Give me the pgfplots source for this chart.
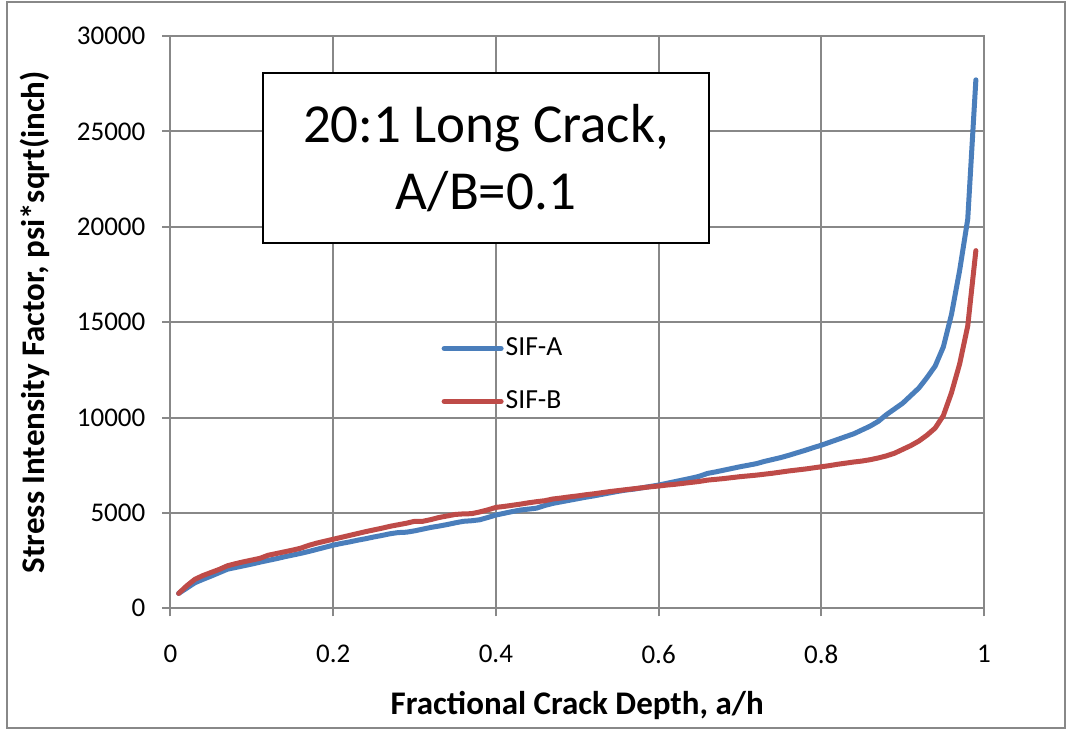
\documentclass[border=0pt]{standalone}
\usepackage{pgfplots}
\pgfplotsset{compat=1.18}
\usepackage{fontspec}
\setmainfont{Carlito}
\definecolor{sifA}{HTML}{4A7EBB}
\definecolor{sifB}{HTML}{BE4B48}
\definecolor{gridc}{HTML}{888888}

\pgfplotstableread{
x y
0.01 780
0.02 1060
0.03 1340
0.04 1520
0.05 1690
0.06 1870
0.07 2050
0.08 2140
0.09 2230
0.10 2320
0.11 2420
0.12 2510
0.13 2600
0.14 2700
0.15 2790
0.16 2880
0.17 2980
0.18 3090
0.19 3200
0.20 3310
0.21 3400
0.22 3480
0.23 3570
0.24 3650
0.25 3740
0.26 3820
0.27 3910
0.28 3970
0.29 3990
0.30 4060
0.31 4150
0.32 4240
0.33 4310
0.34 4390
0.35 4480
0.36 4560
0.37 4590
0.38 4640
0.39 4760
0.40 4890
0.41 4980
0.42 5070
0.43 5150
0.44 5200
0.45 5250
0.46 5390
0.47 5500
0.48 5580
0.49 5660
0.50 5740
0.51 5820
0.52 5890
0.53 5970
0.54 6050
0.55 6130
0.56 6200
0.57 6250
0.58 6320
0.59 6390
0.60 6460
0.61 6550
0.62 6640
0.63 6730
0.64 6820
0.65 6920
0.66 7070
0.67 7150
0.68 7240
0.69 7330
0.70 7420
0.71 7500
0.72 7580
0.73 7700
0.74 7800
0.75 7900
0.76 8020
0.77 8150
0.78 8280
0.79 8420
0.80 8550
0.81 8700
0.82 8850
0.83 9000
0.84 9150
0.85 9350
0.86 9550
0.87 9800
0.88 10150
0.89 10450
0.90 10750
0.91 11150
0.92 11550
0.93 12100
0.94 12700
0.95 13700
0.96 15400
0.97 17700
0.98 20400
0.99 27700
}\sifa

\pgfplotstableread{
x y
0.01 780
0.02 1180
0.03 1520
0.04 1720
0.05 1880
0.06 2040
0.07 2230
0.08 2340
0.09 2440
0.10 2530
0.11 2620
0.12 2780
0.13 2870
0.14 2960
0.15 3050
0.16 3150
0.17 3300
0.18 3420
0.19 3520
0.20 3620
0.21 3720
0.22 3820
0.23 3920
0.24 4020
0.25 4110
0.26 4200
0.27 4300
0.28 4380
0.29 4460
0.30 4560
0.31 4560
0.32 4650
0.33 4760
0.34 4840
0.35 4920
0.36 4950
0.37 4960
0.38 5050
0.39 5160
0.40 5290
0.41 5340
0.42 5400
0.43 5460
0.44 5530
0.45 5590
0.46 5640
0.47 5730
0.48 5780
0.49 5840
0.50 5890
0.51 5950
0.52 6000
0.53 6060
0.54 6120
0.55 6170
0.56 6220
0.57 6270
0.58 6320
0.59 6370
0.60 6410
0.61 6460
0.62 6500
0.63 6550
0.64 6600
0.65 6650
0.66 6720
0.67 6760
0.68 6800
0.69 6850
0.70 6900
0.71 6940
0.72 6980
0.73 7030
0.74 7080
0.75 7140
0.76 7200
0.77 7250
0.78 7300
0.79 7360
0.80 7420
0.81 7480
0.82 7550
0.83 7610
0.84 7670
0.85 7720
0.86 7790
0.87 7880
0.88 7990
0.89 8130
0.90 8330
0.91 8530
0.92 8770
0.93 9080
0.94 9450
0.95 10100
0.96 11300
0.97 12800
0.98 14800
0.99 18750
}\sifb

\begin{document}
\begin{tikzpicture}
\useasboundingbox (-85.25pt,-60.85pt) rectangle (451.75pt,304.15pt);
\draw[gridc, line width=1pt] (-81.75pt,-59.85pt) rectangle (447.25pt,303.15pt);
\begin{axis}[
  scale only axis,
  width=406.75pt, height=286.15pt,
  xmin=0, xmax=1, ymin=0, ymax=30000,
  xtick={0,0.2,0.4,0.6,0.8,1},
  xticklabels={0,0.2,0.4,0.6,0.8,1},
  ytick={0,5000,10000,15000,20000,25000,30000},
  yticklabels={0,5000,10000,15000,20000,25000,30000},
  scaled ticks=false,
  grid=major,
  grid style={gridc, line width=1pt},
  axis line style={gridc, line width=1pt},
  tick style={gridc, line width=1pt},
  tick align=outside,
  tick pos=left,
  major tick length=4pt,
  ticklabel style={font=\fontsize{13.5}{16}\selectfont, text=black},
  yticklabel style={anchor=east, inner sep=0pt, xshift=-8.4pt},
  xticklabel style={anchor=north, inner sep=0pt, yshift=-14.35pt},
  xlabel={Fractional Crack Depth, a/h},
  ylabel={Stress Intensity Factor, psi*sqrt(inch)},
  label style={font=\fontsize{16.5}{20}\selectfont\bfseries},
  xlabel style={at={(axis description cs:0.5,-0.1864)}, anchor=base, inner sep=0pt},
  ylabel style={at={(axis description cs:-0.1543,0.5)}, anchor=base, rotate=0, inner sep=0pt},
  legend style={draw=none, fill=none, at={(axis description cs:0.3328,0.4077)}, anchor=west,
    font=\fontsize{13.8}{16}\selectfont, inner sep=0pt, row sep=14pt,
    nodes={inner sep=1pt}},
  legend cell align=left,
  legend image code/.code={\draw[#1] (0pt,0pt) -- (28.5pt,0pt);},
  clip=false,
]
\addplot[sifA, line width=2.5pt, line cap=round, line join=round] table[x=x,y=y] {\sifa};
\addlegendentry{SIF-A}
\addplot[sifB, line width=2.5pt, line cap=round, line join=round] table[x=x,y=y] {\sifb};
\addlegendentry{SIF-B}
\node[draw=black, line width=0.8pt, fill=white, minimum width=223pt, minimum height=85pt,
  align=center, font=\fontsize{27.5}{33.5}\selectfont, inner sep=0pt]
  at (axis description cs:0.3878,0.7868) {20:1 Long Crack,\\A/B=0.1};
\end{axis}
\end{tikzpicture}
\end{document}
